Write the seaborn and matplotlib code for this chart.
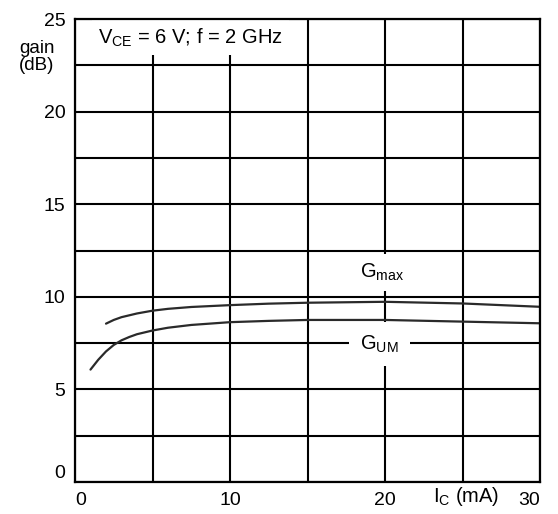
import matplotlib
matplotlib.use("Agg")
import matplotlib.pyplot as plt
import seaborn as sns
import pandas as pd

# ---- data ----
ic_gmax = [2, 2.5, 3, 4, 5, 6, 7.5, 10, 12.5, 15, 20, 25, 30]
gmax = [8.55, 8.75, 8.9, 9.1, 9.25, 9.35, 9.45, 9.55, 9.63, 9.68, 9.73, 9.64, 9.46]
ic_gum = [1, 1.5, 2, 2.5, 3, 3.5, 4, 5, 6, 7.5, 10, 12.5, 15, 20, 25, 30]
gum = [6.07, 6.6, 7.05, 7.4, 7.65, 7.83, 7.98, 8.18, 8.33, 8.48, 8.63, 8.7, 8.75, 8.75, 8.66, 8.57]

x_ticks = [0, 5, 10, 15, 20, 25, 30]
x_labels = ["0", "", "10", "", "20", "", "30"]
y_ticks = [0, 2.5, 5, 7.5, 10, 12.5, 15, 17.5, 20, 22.5, 25]
y_labels = ["0", "", "5", "", "10", "", "15", "", "20", "", "25"]

sns.set_style("white")
plt.rcParams["font.family"] = ["Liberation Sans", "DejaVu Sans"]
plt.rcParams["mathtext.default"] = "regular"
plt.rcParams["text.color"] = "black"
plt.rcParams["xtick.color"] = "black"
plt.rcParams["ytick.color"] = "black"

df = pd.concat([
    pd.DataFrame({"Ic": ic_gmax, "gain": gmax, "curve": "Gmax"}),
    pd.DataFrame({"Ic": ic_gum, "gain": gum, "curve": "GUM"}),
])

fig = plt.figure(figsize=(5.58, 5.14), dpi=100)
ax = fig.add_axes([75 / 558, 32 / 514, 465 / 558, 463 / 514])

sns.lineplot(data=df, x="Ic", y="gain", hue="curve", palette=["#2a2a2a", "#2a2a2a"],
             linewidth=1.6, legend=False, ax=ax, zorder=2)

ax.set_xlim(0, 30)
ax.set_ylim(0, 25)
ax.set_xticks(x_ticks)
ax.set_xticklabels(x_labels, fontsize=14)
ax.set_yticks(y_ticks)
ax.set_yticklabels(y_labels, fontsize=14)
ax.tick_params(length=0, pad=7)
ax.set_axisbelow(True)
ax.grid(True, color="black", linewidth=1.5)
for s in ax.spines.values():
    s.set_visible(True)
    s.set_color("black")
    s.set_linewidth(1.6)
    s.set_zorder(5)
ax.set_xlabel("")
ax.set_ylabel("")

xl = ax.get_xticklabels()
xl[0].set_ha("left")
xl[-1].set_ha("right")
yl = ax.get_yticklabels()
yl[0].set_va("bottom")

ax.text(1.5, 24.0, r"V$_{CE}$ = 6 V; f = 2 GHz", fontsize=14.5, ha="left", va="center",
        bbox=dict(facecolor="white", edgecolor="none", boxstyle="square,pad=0.3"), zorder=3)
ax.text(18.4, 11.3, r"G$_{max}$", fontsize=14.5, ha="left", va="center",
        bbox=dict(facecolor="white", edgecolor="none", boxstyle="square,pad=0.4"), zorder=3)
ax.text(18.4, 7.45, r"G$_{UM}$", fontsize=14.5, ha="left", va="center",
        bbox=dict(facecolor="white", edgecolor="none", boxstyle="square,pad=0.55"), zorder=3)

fig.text(37 / 558, 1 - 40 / 514, "gain\n(dB)", fontsize=13.5, ha="center", va="top",
         linespacing=1.0)
fig.text(466 / 558, 1 - 497 / 514, r"I$_C$ (mA)", fontsize=14.5, ha="center", va="center")

fig.savefig("out.png", dpi=100, facecolor="white")
